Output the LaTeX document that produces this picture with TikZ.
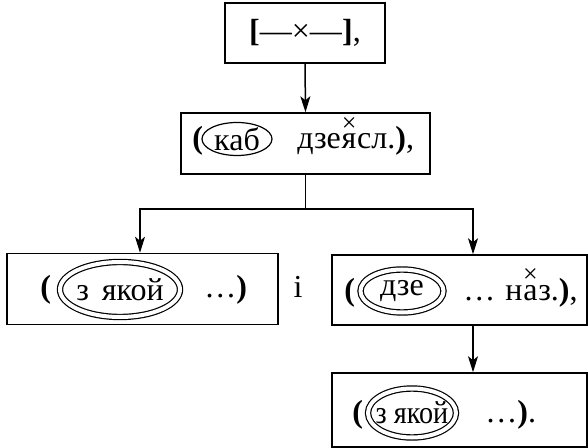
\documentclass[tikz,border=0pt]{standalone}
\usepackage{fontspec}
\usepackage{graphicx}
\setmainfont{Liberation Serif}
\usetikzlibrary{shapes.geometric,arrows.meta,positioning}

\begin{document}
\begin{tikzpicture}[x=0.5pt,y=-0.5pt,font=\fontsize{16}{18}\selectfont,
  box/.style={draw,line width=0.75pt,inner sep=0pt},
  word/.style={anchor=base west,inner sep=0pt},
  oval/.style={ellipse,draw,line width=0.6pt,inner sep=0pt},
  twooval/.style={oval,double,double distance=2pt},
  cross/.style={inner sep=0pt,font=\fontsize{13}{13}\selectfont},
  arr/.style={-{Stealth[length=8pt,width=5pt,inset=2pt]},line width=0.75pt}]
  \useasboundingbox (0,0) rectangle (588,448);

  % boxes
  \node [box,minimum width=80pt,minimum height=30pt]      (top)    at (305,33)      {};
  \node [box,minimum width=124.5pt,minimum height=30.5pt] (mid)    at (305.5,143.5) {};
  \node [box,minimum width=135.5pt,minimum height=35.5pt] (left)   at (142.5,289)   {};
  \node [box,minimum width=127.5pt,minimum height=35pt]   (right)  at (459.5,290)   {};
  \node [box,minimum width=127.5pt,minimum height=37pt]   (bottom) at (459.5,410)   {};

  % top
  \node (toptext) at (top.center) {\textbf{[}—×—\textbf{]},};

  % middle
  \node [word] (mparen) at (192,149) {\textbf{(}};
  \node [oval,minimum width=35pt,minimum height=16.5pt] (kabring) at (237,139) {};
  \node (kab) at (kabring.center) {каб};
  \node [word] (mdze) at (297,149) {дзе};
  \node [word] (mja) at (mdze.base east) {я};
  \node [word] (mrest) at (mja.base east) {сл.\textbf{)},};
  \node [cross,above=0.8pt of mja] (mcross) {×};

  % left
  \node [word] (lparen) at (40,298) {\textbf{(}};
  \node [twooval,minimum width=60pt,minimum height=27.5pt] (lring) at (120,289.5) {};
  \node (lzjakoj) at (lring.center) {з\hspace{0.4em}якой};
  \node [word] (lrest) at (204,298) {…\textbf{)}};

  \node [anchor=base,inner sep=0pt] (conj) at (298,298) {і};

  % right
  \node [word] (rparen) at (344,300) {\textbf{(}};
  \node [twooval,minimum width=41.5pt,minimum height=21.5pt] (rring) at (402,291) {};
  \node (dze) at (rring.center) {дзе};
  \node [word] (rdots) at (463,300) {…};
  \node [word] (rn) at (505,300) {н};
  \node [word] (ra) at (rn.base east) {а};
  \node [word] (rrest) at (ra.base east) {з.\textbf{)},};
  \node [cross,above=0.8pt of ra] (rcross) {×};

  % bottom
  \node [word] (bparen) at (352,422) {\textbf{(}};
  \node [twooval,minimum width=44pt,minimum height=24.5pt] (bring) at (412,413) {};
  \node (bzjakoj) at (bring.center) {\scalebox{0.88}[1]{з якой}};
  \node [word] (brest) at (485,422) {…\textbf{)}.};

  % connectors
  \coordinate (lhook) at (140,209);
  \coordinate (rhook) at (473,209);
  \draw [arr] (top.south) -- (mid.north);
  \draw [arr] (mid.south) |- (lhook) -- (lhook |- left.north);
  \draw [arr] (mid.south) |- (rhook) -- (rhook |- right.north);
  \draw [arr] (rhook |- right.south) -- (rhook |- bottom.north);
\end{tikzpicture}
\end{document}
